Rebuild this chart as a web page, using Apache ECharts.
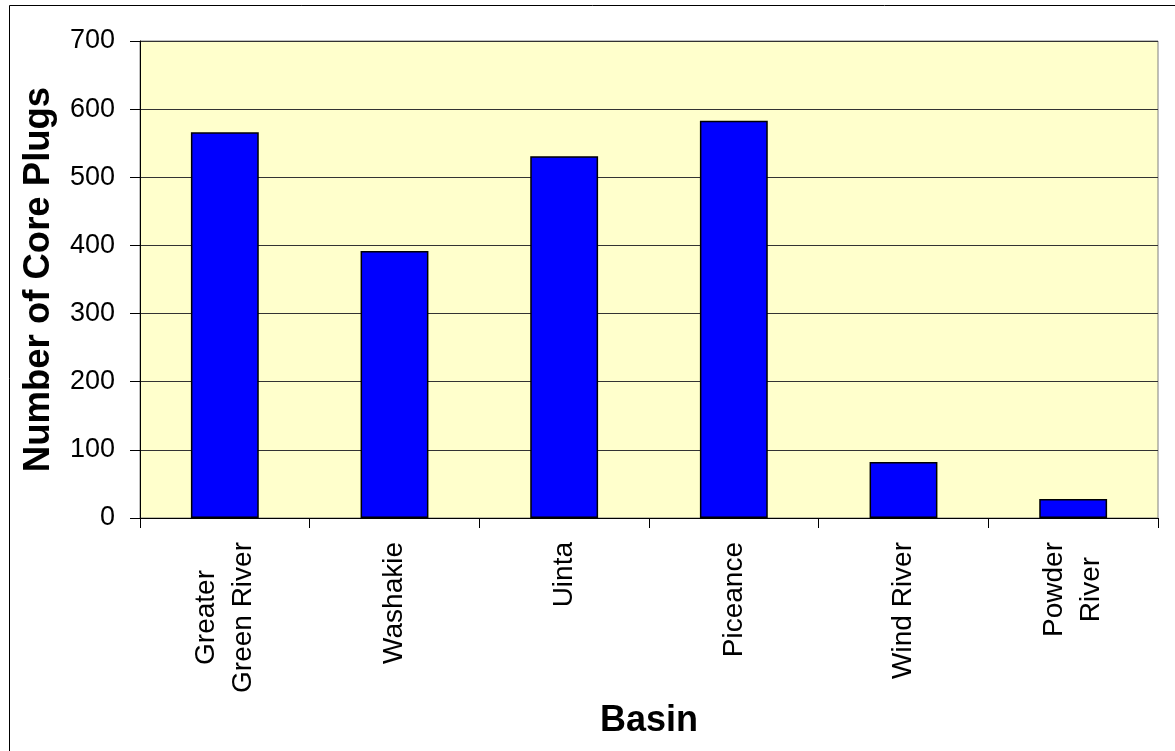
<!DOCTYPE html>
<html>
<head>
<meta charset="utf-8">
<script src="https://cdn.jsdelivr.net/npm/echarts@6/dist/echarts.min.js"></script>
<style>
html,body{margin:0;padding:0;background:#fff;}
#chart{width:1175px;height:751px;}
</style>
</head>
<body>
<div id="chart"></div>
<script>
const categories = ['Greater\nGreen River', 'Washakie', 'Uinta', 'Piceance', 'Wind River', 'Powder\nRiver'];
const corePlugs = [566, 392, 531, 583, 82, 28];
const yTicks = [0, 100, 200, 300, 400, 500, 600, 700];

const FONT = 'Arial, "Liberation Sans", sans-serif';
const LABEL_SIZE = 28;
const Y_LABEL_SIZE = 27;

const measureCtx = document.createElement('canvas').getContext('2d');
measureCtx.font = LABEL_SIZE + 'px ' + FONT;
function maxLineWidth(lines) {
  return Math.ceil(Math.max.apply(null, lines.map(l => measureCtx.measureText(l).width)));
}
const richStyles = {};
categories.forEach((c, i) => {
  const lines = c.split('\n');
  if (lines.length > 1) {
    richStyles['c' + i] = {
      width: maxLineWidth(lines), align: 'center',
      fontSize: LABEL_SIZE, fontFamily: FONT, color: '#000', lineHeight: 37
    };
  }
});

const chart = echarts.init(document.getElementById('chart'), null, {renderer: 'canvas'});
chart.setOption({
  animation: false,
  backgroundColor: '#fff',
  graphic: [{
    type: 'rect', left: 7, top: 3, z: 100, silent: true,
    shape: {width: 1200, height: 800},
    style: {fill: 'none', stroke: '#000', lineWidth: 1}
  }],
  grid: {
    left: 140, right: 17, top: 41, bottom: 233,
    show: true, backgroundColor: '#FFFFCC', borderColor: '#808080', borderWidth: 1
  },
  xAxis: {
    type: 'category',
    data: categories,
    name: 'Basin',
    nameLocation: 'middle',
    nameGap: 185,
    nameTextStyle: {fontSize: 36, fontWeight: 'bold', fontFamily: FONT, color: '#000'},
    axisLine: {show: true, lineStyle: {color: '#000', width: 1}},
    axisTick: {show: true, length: 10, inside: false, alignWithLabel: false, lineStyle: {color: '#000'}},
    axisLabel: {
      rotate: 90, margin: 24, interval: 0,
      fontSize: LABEL_SIZE, fontFamily: FONT, color: '#000', lineHeight: 37,
      formatter: function (value, idx) {
        const lines = value.split('\n');
        if (lines.length > 1) return lines.map(l => '{c' + idx + '|' + l + '}').join('\n');
        return value;
      },
      rich: richStyles
    },
    splitLine: {show: false}
  },
  yAxis: {
    type: 'value',
    min: yTicks[0], max: yTicks[yTicks.length - 1], interval: 100,
    name: 'Number of Core Plugs',
    nameLocation: 'middle',
    nameGap: 83,
    nameTextStyle: {fontSize: 36.5, fontWeight: 'bold', fontFamily: FONT, color: '#000'},
    axisLine: {show: true, lineStyle: {color: '#000', width: 1}},
    axisTick: {show: true, length: 10, inside: false, lineStyle: {color: '#000'}},
    axisLabel: {margin: 25, fontSize: Y_LABEL_SIZE, fontFamily: FONT, color: '#000'},
    splitLine: {show: true, lineStyle: {color: '#333', width: 1}}
  },
  series: [{
    type: 'bar',
    data: corePlugs,
    barWidth: '40%',
    itemStyle: {color: '#0000FF', borderColor: '#000', borderWidth: 1.5}
  }]
});
</script>
</body>
</html>
